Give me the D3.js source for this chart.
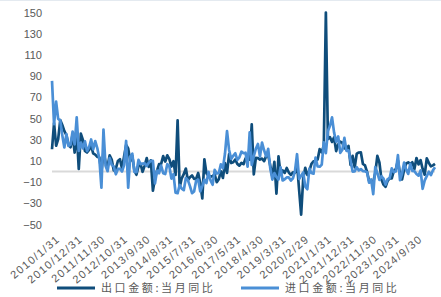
<!DOCTYPE html>
<html>
<head>
<meta charset="utf-8">
<style>
  body { margin: 0; background: #fff; }
  svg { display: block; font-family: "Liberation Sans", Arial, sans-serif; }
  .yaxis text, .xaxis text { fill: #595959; }
  .legend text { font-family: "Noto Sans CJK SC", sans-serif; font-size: 11px; fill: #595959; letter-spacing: 2.6px; }
</style>
<script src="https://d3js.org/d3.v7.min.js"></script>
</head>
<body>
<svg width="441" height="297"></svg>
<script>
// monthly, 2010-01 .. 2025-07
const startYear = 2010;
const nMonths = 187;
const seriesNames = ["出口金额:当月同比", "进口金额:当月同比"];
const exportYoY = [
  21.0, 45.7, 24.3, 30.5, 48.5, 43.9, 38.1, 34.4, 25.1, 22.9, 34.9, 17.9,
  37.7, 2.4, 35.8, 29.9, 19.4, 17.9, 20.4, 24.5, 17.1, 15.9, 13.8, 13.4,
  -0.5, 18.4, 8.9, 4.9, 15.3, 11.3, 1.0, 2.7, 9.9, 11.6, 2.9, 14.1,
  25.0, 21.8, 10.0, 14.7, 1.0, -3.1, 5.1, 7.2, -0.3, 5.6, 12.7, 4.3,
  10.6, -18.1, -6.6, 0.9, 7.0, 7.2, 14.5, 9.4, 15.3, 11.6, 4.7, 9.7,
  -3.3, 48.3, -15.0, -6.4, -2.5, 2.8, -8.3, -5.5, -3.7, -6.9, -6.8, -1.4,
  -11.2, -25.4, 11.5, -1.8, -4.1, -4.8, -4.4, -2.8, -10.0, -7.3, 0.1, -6.1,
  7.9, -1.3, 16.4, 8.0, 8.7, 11.3, 7.2, 5.5, 8.1, 6.9, 12.3, 10.9,
  11.1, 44.5, -2.7, 12.9, 12.6, 11.3, 12.2, 9.8, 14.5, 15.6, 5.4, -4.4,
  9.1, -20.8, 14.2, -2.7, 1.1, -1.3, 3.3, -1.0, -3.2, -0.9, -1.1, 7.6,
  -17.2, -40.6, -6.6, 3.5, -3.3, 0.5, 7.2, 9.5, 9.9, 11.4, 21.1, 18.1,
  24.7, 150.0, 30.6, 32.3, 27.9, 32.2, 19.3, 25.6, 28.1, 27.1, 22.0, 20.9,
  24.1, 6.2, 14.7, 3.9, 16.9, 17.9, 18.0, 7.1, 5.7, -0.3, -8.9, -9.9,
  -10.0, -1.3, 14.8, 8.5, -7.5, -12.4, -14.5, -8.8, -6.2, -6.4, 0.5, 2.3,
  10.3, -2.1, -7.5, 1.5, 7.6, 8.6, 7.0, 8.7, 2.4, 12.7, 6.7, 10.7,
  2.3, -3.0, 12.4, 8.1, 4.8, 5.8, 7.2
];
const importYoY = [
  85.5, 44.7, 66.0, 49.7, 48.3, 34.1, 22.7, 35.2, 24.1, 25.3, 37.7, 25.6,
  51.0, 19.4, 27.3, 21.8, 28.4, 19.3, 22.9, 30.2, 20.9, 28.7, 22.1, 11.8,
  -15.3, 39.6, 5.3, 0.3, 12.7, 6.3, 4.7, -2.6, 2.4, 2.4, 0.0, 6.0,
  28.8, -15.2, 14.1, 16.8, -0.3, -0.7, 10.9, 7.0, 7.4, 7.6, 5.3, 8.3,
  10.0, 10.1, -11.3, 0.8, -1.6, 5.5, -1.6, -2.4, 7.0, 4.6, -6.7, -2.4,
  -19.9, -20.5, -12.7, -16.2, -17.6, -6.1, -8.1, -13.8, -20.4, -18.8, -8.7, -7.6,
  -18.8, -13.8, -7.6, -10.9, -0.4, -8.4, -12.5, 1.5, -1.9, -1.4, 6.7, 3.1,
  16.7, 38.1, 20.3, 11.9, 14.8, 17.2, 11.0, 13.3, 18.7, 17.2, 17.7, 4.5,
  36.9, 6.3, 14.4, 21.5, 26.0, 14.1, 27.3, 20.0, 14.3, 21.4, 3.0, -7.6,
  -1.5, -5.2, -7.6, 4.0, -8.5, -7.3, -5.6, -5.6, -8.5, -6.4, 0.3, 16.3,
  -7.0, -4.0, -0.9, -14.2, -16.7, 2.7, -1.4, -2.1, 13.2, 4.7, 4.5, 6.5,
  27.5, 17.3, 38.1, 43.1, 51.1, 36.7, 28.1, 33.1, 17.6, 20.6, 31.7, 19.5,
  20.0, 10.4, -0.1, 0.0, 4.1, 1.0, 2.3, 0.3, 0.3, -0.7, -10.6, -7.5,
  -21.3, 4.2, -1.4, -7.9, -4.5, -6.8, -12.4, -7.3, -6.2, 3.0, -0.6, 0.2,
  15.5, -8.2, -1.9, 8.4, 1.8, -2.3, 7.2, 0.5, 0.3, -2.3, -3.9, 1.0,
  -16.3, -8.4, -4.3, -0.2, -3.4, 1.1, 4.1
];
const yTicks = [-50, -30, -10, 10, 30, 50, 70, 90, 110, 130, 150];
const labelStep = 11;

// month-end date labels like 2010/1/31
const dates = d3.range(nMonths).map(i => {
  let y = startYear + Math.floor(i / 12), m = i % 12 + 1;
  let last = new Date(y, m, 0).getDate();
  return y + "/" + m + "/" + last;
});
const xTickIdx = d3.range(0, nMonths, labelStep);

const svg = d3.select("svg");
const colors = ["#0f4d7b", "#4a8fd6"];

const x = d3.scalePoint().domain(d3.range(nMonths)).range([52, 435]);
const y = d3.scaleLinear().domain([-50, 150]).range([224.5, 12.5]);

// faint top border
svg.append("line").attr("x1", 0).attr("x2", 441).attr("y1", 0.5).attr("y2", 0.5)
  .attr("stroke", "#e4eaf0");

// y axis labels only
svg.append("g").attr("class", "yaxis")
  .attr("transform", "translate(44,0)")
  .call(d3.axisLeft(y).tickValues(yTicks).tickSize(0).tickPadding(2))
  .call(g => g.select(".domain").remove())
  .selectAll("text").attr("font-size", 11);

// zero line
svg.append("line")
  .attr("x1", x(0)).attr("x2", x(nMonths - 1))
  .attr("y1", y(0)).attr("y2", y(0))
  .attr("stroke", "#d9d9d9").attr("stroke-width", 2);

// x axis labels, rotated
svg.append("g").attr("class", "xaxis")
  .attr("transform", "translate(3,234)")
  .call(d3.axisBottom(x).tickValues(xTickIdx).tickFormat(i => dates[i]).tickSize(0).tickPadding(0))
  .call(g => g.select(".domain").remove())
  .selectAll("text")
    .attr("font-size", 11)
    .attr("letter-spacing", "1.3px")
    .attr("text-anchor", "end")
    .attr("dy", "0.75em")
    .attr("transform", "rotate(-40)");

const line = d3.line().x((d, i) => x(i)).y(d => y(d));
[exportYoY, importYoY].forEach((vals, k) => {
  svg.append("path")
    .datum(vals)
    .attr("fill", "none")
    .attr("stroke", colors[k])
    .attr("stroke-width", 2.7)
    .attr("stroke-linejoin", "round")
    .attr("d", line);
});

// legend
const legend = svg.append("g").attr("class", "legend");
const legX = [57, 241];
seriesNames.forEach((name, k) => {
  legend.append("line")
    .attr("x1", legX[k]).attr("x2", legX[k] + 38)
    .attr("y1", 288).attr("y2", 288)
    .attr("stroke", colors[k]).attr("stroke-width", 3);
  legend.append("text")
    .attr("x", legX[k] + 44).attr("y", 292)
    .text(name);
});
</script>
</body>
</html>
